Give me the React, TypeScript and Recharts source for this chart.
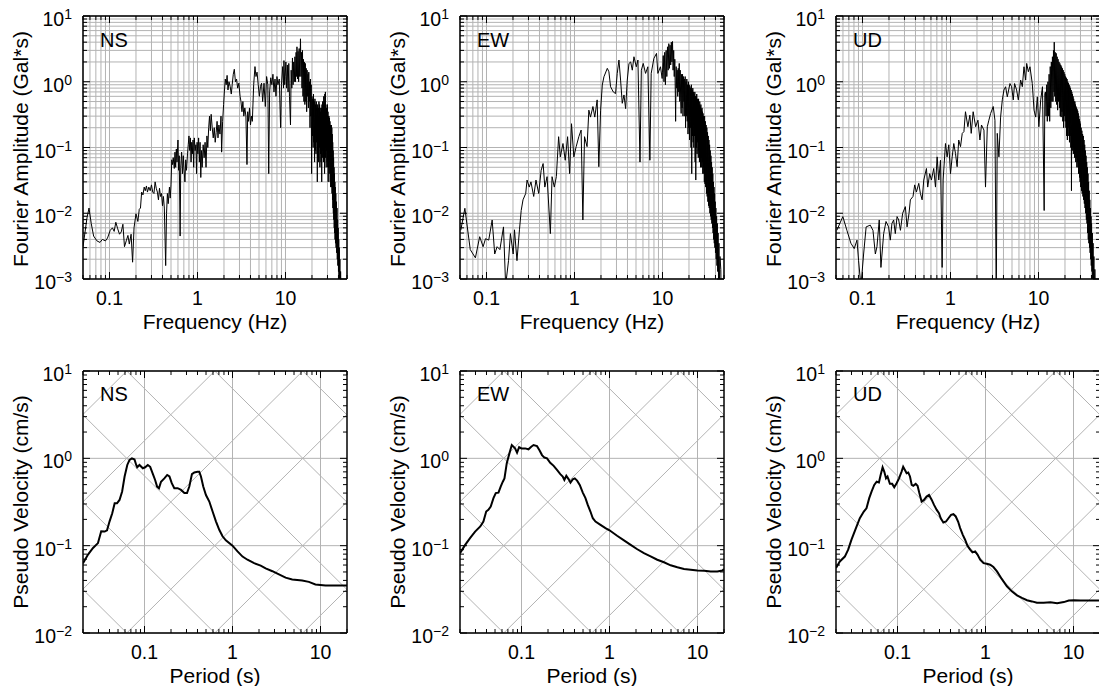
import React from "react";
import { LineChart, Line, XAxis, YAxis, ReferenceLine } from "recharts";

type Pt = [number, number];

// Fourier amplitude spectra [frequency Hz, amplitude Gal*s]
const nsFourier: Pt[] = [
  [0.05, 0.0031], [0.0555, 0.0085], [0.0585, 0.012], [0.062, 0.007], [0.066, 0.0045], [0.072, 0.0038],
  [0.078, 0.0036], [0.083, 0.004], [0.09, 0.0038], [0.095, 0.0042], [0.102, 0.0055], [0.108, 0.006],
  [0.113, 0.0053], [0.118, 0.0073], [0.124, 0.0058], [0.13, 0.0048], [0.136, 0.0052], [0.142, 0.0068],
  [0.148, 0.0031], [0.155, 0.0038], [0.162, 0.0046], [0.168, 0.0034], [0.176, 0.0048], [0.183, 0.0018],
  [0.19, 0.006], [0.2, 0.0098], [0.21, 0.0075], [0.218, 0.0115], [0.225, 0.012], [0.232, 0.021],
  [0.24, 0.019], [0.248, 0.025], [0.255, 0.022], [0.263, 0.026], [0.27, 0.021], [0.28, 0.025],
  [0.29, 0.022], [0.3, 0.027], [0.31, 0.021], [0.32, 0.02], [0.33, 0.03], [0.34, 0.024], [0.35, 0.021],
  [0.36, 0.016], [0.37, 0.024], [0.38, 0.018], [0.39, 0.02], [0.4, 0.013], [0.41, 0.018], [0.42, 0.012],
  [0.435, 0.0016], [0.445, 0.01], [0.455, 0.02], [0.465, 0.014], [0.48, 0.025], [0.49, 0.017],
  [0.5, 0.027], [0.51, 0.065], [0.52, 0.055], [0.53, 0.07], [0.545, 0.048], [0.555, 0.085], [0.565, 0.05],
  [0.575, 0.095], [0.585, 0.06], [0.6, 0.13], [0.61, 0.045], [0.62, 0.075], [0.635, 0.0045], [0.645, 0.05],
  [0.66, 0.085], [0.675, 0.04], [0.69, 0.075], [0.7, 0.05], [0.72, 0.03], [0.735, 0.065], [0.75, 0.045],
  [0.77, 0.08], [0.785, 0.11], [0.8, 0.15], [0.815, 0.09], [0.83, 0.14], [0.845, 0.06], [0.86, 0.12],
  [0.875, 0.08], [0.89, 0.13], [0.905, 0.05], [0.92, 0.14], [0.94, 0.09], [0.96, 0.11], [0.975, 0.04],
  [0.99, 0.12], [1.01, 0.08], [1.03, 0.14], [1.05, 0.06], [1.07, 0.12], [1.09, 0.035], [1.11, 0.09],
  [1.13, 0.05], [1.16, 0.11], [1.19, 0.07], [1.22, 0.12], [1.25, 0.05], [1.28, 0.15], [1.31, 0.1],
  [1.34, 0.2], [1.37, 0.3], [1.4, 0.18], [1.43, 0.32], [1.47, 0.2], [1.51, 0.14], [1.55, 0.2], [1.59, 0.12],
  [1.63, 0.17], [1.67, 0.25], [1.71, 0.14], [1.75, 0.22], [1.8, 0.16], [1.85, 0.3], [1.88, 0.085],
  [1.93, 0.25], [1.98, 0.45], [2.02, 0.7], [2.07, 1.1], [2.12, 0.9], [2.17, 1.25], [2.22, 0.75], [2.28, 1.0],
  [2.35, 0.85], [2.42, 0.65], [2.48, 0.9], [2.55, 1.3], [2.62, 1.55], [2.7, 1.0], [2.78, 1.1], [2.86, 0.8],
  [2.95, 0.95], [3.05, 0.6], [3.12, 0.5], [3.2, 0.35], [3.28, 0.5], [3.36, 0.3], [3.45, 0.4], [3.55, 0.3],
  [3.65, 0.055], [3.72, 0.35], [3.8, 0.25], [3.9, 0.4], [4.0, 0.22], [4.1, 0.3], [4.2, 0.25], [4.35, 0.9],
  [4.5, 1.7], [4.62, 1.2], [4.75, 1.4], [4.9, 0.9], [5.05, 0.6], [5.2, 0.85], [5.35, 0.95], [5.5, 0.5],
  [5.7, 0.95], [5.9, 0.42], [6.1, 1.2], [6.3, 0.9], [6.45, 0.04], [6.6, 0.7], [6.8, 1.15], [7.0, 0.9],
  [7.2, 1.3], [7.4, 0.7], [7.6, 1.1], [7.8, 0.6], [8.0, 1.2], [8.2, 0.9], [8.5, 1.1], [8.8, 0.2], [9.0, 0.9],
  [9.3, 1.7], [9.5, 0.8], [9.6, 2.1], [9.8, 0.9], [9.9, 1.2], [10.1, 2.0], [10.3, 0.8], [10.5, 1.8],
  [10.7, 0.7], [10.9, 1.9], [11.1, 0.6], [11.4, 0.22], [11.6, 1.5], [11.8, 0.8], [12.0, 2.3], [12.2, 0.9],
  [12.4, 2.0], [12.6, 1.0], [12.8, 2.4], [13.0, 1.0], [13.2, 2.8], [13.4, 1.2], [13.5, 3.4], [13.7, 1.1],
  [13.9, 2.9], [14.1, 1.0], [14.3, 3.2], [14.5, 1.2], [14.8, 4.5], [15.0, 1.2], [15.2, 2.8], [15.4, 0.8],
  [15.6, 3.0], [15.8, 0.6], [16.0, 2.2], [16.2, 0.5], [16.4, 2.0], [16.6, 0.45], [16.8, 1.9], [17.0, 0.5],
  [17.2, 1.6], [17.4, 0.35], [17.6, 1.5], [17.8, 0.6], [18.0, 1.3], [18.2, 0.4], [18.4, 1.4], [18.6, 0.5],
  [18.8, 1.0], [19.0, 0.2], [19.2, 1.1], [19.4, 0.3], [19.6, 0.9], [19.8, 0.04], [20.0, 0.6], [20.2, 0.15],
  [20.4, 0.55], [20.6, 0.1], [20.8, 0.65], [21.0, 0.12], [21.2, 0.5], [21.4, 0.06], [21.6, 0.55],
  [21.8, 0.09], [22.0, 0.45], [22.2, 0.08], [22.4, 0.5], [22.6, 0.12], [22.8, 0.4], [23.0, 0.03],
  [23.2, 0.45], [23.4, 0.07], [23.6, 0.4], [23.8, 0.06], [24.0, 0.5], [24.2, 0.1], [24.4, 0.45],
  [24.6, 0.05], [24.8, 0.4], [25.0, 0.08], [25.2, 0.35], [25.4, 0.06], [25.6, 0.4], [25.8, 0.03],
  [26.0, 0.45], [26.2, 0.07], [26.4, 0.5], [26.6, 0.09], [26.8, 0.45], [27.0, 0.06], [27.2, 0.6],
  [27.4, 0.08], [27.6, 0.5], [27.8, 0.04], [28.0, 0.65], [28.2, 0.1], [28.4, 0.7], [28.6, 0.07],
  [28.8, 0.45], [29.0, 0.05], [29.2, 0.4], [29.4, 0.09], [29.6, 0.35], [29.8, 0.06], [30.0, 0.45],
  [30.2, 0.05], [30.4, 0.35], [30.6, 0.03], [30.8, 0.3], [31.0, 0.05], [31.2, 0.3], [31.4, 0.04],
  [31.6, 0.28], [31.8, 0.06], [32.0, 0.25], [32.2, 0.03], [32.4, 0.22], [32.6, 0.025], [32.8, 0.2],
  [33.0, 0.03], [33.2, 0.22], [33.4, 0.025], [33.6, 0.2], [33.8, 0.02], [34.0, 0.16], [34.2, 0.016],
  [34.4, 0.12], [34.6, 0.012], [34.8, 0.09], [35.0, 0.01], [35.2, 0.07], [35.4, 0.008], [35.6, 0.05],
  [35.8, 0.006], [36.0, 0.04], [36.2, 0.005], [36.4, 0.03], [36.6, 0.004], [36.8, 0.025], [37.0, 0.0035],
  [37.3, 0.02], [37.6, 0.003], [37.9, 0.015], [38.2, 0.0025], [38.5, 0.012], [38.8, 0.002], [39.1, 0.008],
  [39.4, 0.0016], [39.7, 0.006], [40.0, 0.0013], [40.3, 0.004], [40.6, 0.001], [40.9, 0.003],
  [41.2, 0.0008], [41.5, 0.002], [41.8, 0.0006], [42.3, 0.0013], [43.0, 0.0005],
];

const ewFourier: Pt[] = [
  [0.051, 0.0055], [0.0568, 0.0119], [0.0654, 0.0028], [0.0748, 0.0021], [0.0837, 0.0044], [0.0915, 0.0031],
  [0.0975, 0.0041], [0.106, 0.0039], [0.116, 0.0079], [0.124, 0.0024], [0.132, 0.0031], [0.142, 0.0028],
  [0.156, 0.0062], [0.165, 0.0008], [0.178, 0.0019], [0.187, 0.0049], [0.201, 0.0024], [0.208, 0.0056],
  [0.222, 0.0019], [0.237, 0.0056], [0.248, 0.011], [0.26, 0.016], [0.279, 0.02], [0.289, 0.032],
  [0.306, 0.025], [0.32, 0.03], [0.344, 0.018], [0.365, 0.032], [0.392, 0.02], [0.418, 0.045],
  [0.44, 0.057], [0.46, 0.025], [0.488, 0.036], [0.532, 0.0049], [0.556, 0.036], [0.59, 0.025],
  [0.622, 0.036], [0.66, 0.146], [0.69, 0.072], [0.74, 0.115], [0.785, 0.064], [0.835, 0.146],
  [0.88, 0.04], [0.925, 0.23], [0.983, 0.072], [1.045, 0.103], [1.12, 0.146], [1.19, 0.184],
  [1.245, 0.0079], [1.3, 0.146], [1.39, 0.103], [1.456, 0.37], [1.52, 0.29], [1.62, 0.42], [1.7, 0.29],
  [1.81, 0.53], [1.89, 0.051], [1.98, 0.37], [2.07, 0.89], [2.16, 1.19], [2.36, 1.6], [2.46, 1.42],
  [2.57, 0.84], [2.76, 0.7], [2.93, 0.66], [3.06, 1.34], [3.2, 2.14], [3.34, 1.06], [3.49, 0.47],
  [3.65, 0.63], [3.81, 0.39], [3.98, 1.06], [4.16, 1.9], [4.35, 2.0], [4.54, 1.5], [4.74, 2.4],
  [5.04, 1.69], [5.26, 2.14], [5.55, 0.06], [5.75, 1.5], [6.04, 1.9], [6.42, 1.34], [6.82, 1.69],
  [7.19, 0.064], [7.44, 1.34], [7.98, 2.26], [8.55, 2.7], [8.86, 1.34], [9.49, 1.69], [9.91, 1.12],
  [10.0, 1.4], [10.2, 2.5], [10.4, 1.0], [10.6, 2.8], [10.8, 0.9], [11.0, 3.0], [11.2, 1.2], [11.4, 3.4],
  [11.6, 1.5], [11.8, 3.8], [12.0, 1.6], [12.2, 3.6], [12.4, 1.8], [12.6, 4.0], [12.8, 2.0], [13.0, 4.1],
  [13.2, 1.5], [13.4, 3.0], [13.6, 1.2], [13.8, 2.2], [14.0, 0.6], [14.1, 0.25], [14.3, 1.7], [14.5, 0.8],
  [14.7, 1.5], [14.9, 0.6], [15.1, 1.6], [15.3, 0.7], [15.5, 1.9], [15.7, 0.5], [15.9, 1.5], [16.1, 0.5],
  [16.3, 0.33], [16.5, 1.3], [16.7, 0.4], [16.9, 1.3], [17.1, 0.3], [17.3, 1.2], [17.5, 0.5], [17.7, 1.1],
  [17.9, 0.3], [18.1, 1.2], [18.3, 0.2], [18.5, 1.0], [18.7, 0.3], [18.9, 1.1], [19.1, 0.25], [19.3, 0.9],
  [19.5, 0.16], [19.7, 1.0], [19.9, 0.2], [20.1, 0.9], [20.3, 0.13], [20.5, 0.85], [20.7, 0.2], [20.9, 0.8],
  [21.1, 0.1], [21.3, 0.9], [21.5, 0.04], [21.7, 0.75], [21.9, 0.15], [22.1, 0.8], [22.3, 0.12],
  [22.5, 0.7], [22.7, 0.1], [22.9, 0.65], [23.1, 0.15], [23.3, 0.7], [23.5, 0.06], [23.7, 0.6],
  [23.9, 0.032], [24.1, 0.6], [24.3, 0.1], [24.5, 0.65], [24.7, 0.08], [24.9, 0.55], [25.1, 0.12],
  [25.3, 0.5], [25.5, 0.07], [25.7, 0.55], [25.9, 0.09], [26.1, 0.45], [26.3, 0.06], [26.5, 0.5],
  [26.7, 0.08], [26.9, 0.42], [27.1, 0.05], [27.3, 0.45], [27.5, 0.07], [27.7, 0.38], [27.9, 0.05],
  [28.1, 0.4], [28.3, 0.06], [28.5, 0.35], [28.7, 0.04], [28.9, 0.33], [29.1, 0.05], [29.3, 0.3],
  [29.5, 0.04], [29.7, 0.28], [29.9, 0.03], [30.1, 0.3], [30.4, 0.028], [30.7, 0.25], [31.0, 0.025],
  [31.3, 0.22], [31.6, 0.02], [31.9, 0.2], [32.2, 0.018], [32.5, 0.17], [32.8, 0.015], [33.1, 0.15],
  [33.4, 0.013], [33.7, 0.13], [34.0, 0.012], [34.3, 0.11], [34.6, 0.01], [34.9, 0.09], [35.2, 0.009],
  [35.5, 0.075], [35.8, 0.008], [36.1, 0.06], [36.4, 0.007], [36.7, 0.05], [37.0, 0.006], [37.3, 0.04],
  [37.6, 0.005], [37.9, 0.03], [38.2, 0.004], [38.5, 0.025], [38.8, 0.0035], [39.1, 0.02], [39.4, 0.003],
  [39.7, 0.015], [40.0, 0.0025], [40.4, 0.012], [40.8, 0.002], [41.2, 0.009], [41.6, 0.0016],
  [42.0, 0.007], [42.4, 0.0013], [42.8, 0.005], [43.3, 0.001], [43.8, 0.0035], [44.3, 0.0008],
  [45.0, 0.0022], [46.0, 0.0014], [46.5, 0.0005], [47.5, 0.0008], [48.5, 0.0004],
];

const udFourier: Pt[] = [
  [0.0511, 0.0055], [0.0598, 0.0089], [0.0665, 0.0055], [0.0738, 0.0035], [0.0806, 0.0029], [0.0866, 0.0039],
  [0.0903, 0.0019], [0.096, 0.00077], [0.103, 0.0024], [0.11, 0.0062], [0.1225, 0.0066], [0.1315, 0.0055],
  [0.14, 0.0024], [0.146, 0.0031], [0.155, 0.0079], [0.162, 0.0015], [0.174, 0.0049], [0.185, 0.0075],
  [0.198, 0.0062], [0.207, 0.0039], [0.216, 0.007], [0.226, 0.0079], [0.236, 0.0049], [0.247, 0.0089],
  [0.258, 0.0079], [0.27, 0.0055], [0.286, 0.01], [0.307, 0.0126], [0.321, 0.0062], [0.338, 0.01],
  [0.35, 0.016], [0.375, 0.018], [0.392, 0.027], [0.41, 0.021], [0.436, 0.0285], [0.455, 0.02],
  [0.476, 0.016], [0.497, 0.032], [0.533, 0.048], [0.551, 0.025], [0.58, 0.04], [0.607, 0.032],
  [0.645, 0.048], [0.675, 0.025], [0.705, 0.072], [0.736, 0.032], [0.77, 0.064], [0.804, 0.0015],
  [0.825, 0.032], [0.877, 0.115], [0.916, 0.072], [0.957, 0.11], [1.0, 0.04], [1.045, 0.072],
  [1.09, 0.115], [1.14, 0.081], [1.19, 0.051], [1.24, 0.13], [1.3, 0.103], [1.36, 0.164], [1.42, 0.174],
  [1.48, 0.35], [1.576, 0.207], [1.66, 0.31], [1.72, 0.164], [1.81, 0.35], [1.93, 0.207], [2.05, 0.26],
  [2.16, 0.13], [2.25, 0.22], [2.4, 0.184], [2.5, 0.025], [2.62, 0.207], [2.73, 0.26], [2.86, 0.33],
  [3.06, 0.42], [3.2, 0.26], [3.31, 0.0005], [3.4, 0.164], [3.55, 0.072], [3.71, 0.29], [3.88, 0.53],
  [4.05, 0.75], [4.23, 0.84], [4.42, 0.59], [4.74, 0.94], [4.95, 0.84], [5.17, 0.53], [5.35, 0.94],
  [5.64, 0.75], [5.9, 0.53], [6.27, 1.06], [6.55, 0.84], [6.84, 1.69], [7.15, 1.06], [7.34, 1.9],
  [7.67, 1.42], [8.0, 1.69], [8.5, 0.94], [8.9, 0.37], [9.3, 0.29], [9.7, 0.59], [10.1, 0.207],
  [10.6, 0.53], [11.1, 0.84], [11.6, 0.011], [11.8, 0.66], [12.0, 0.7], [12.2, 0.3], [12.4, 0.9],
  [12.6, 0.25], [12.8, 1.0], [13.0, 0.3], [13.2, 1.3], [13.4, 0.25], [13.6, 1.7], [13.8, 0.4], [14.0, 2.0],
  [14.2, 0.5], [14.4, 2.4], [14.6, 0.5], [14.8, 3.0], [15.0, 0.7], [15.1, 4.0], [15.3, 0.6], [15.5, 2.8],
  [15.7, 0.5], [15.9, 2.7], [16.1, 0.45], [16.3, 2.4], [16.5, 0.37], [16.7, 2.2], [16.9, 0.5], [17.1, 2.0],
  [17.3, 0.4], [17.5, 1.9], [17.7, 0.3], [17.9, 1.8], [18.1, 0.29], [18.3, 1.7], [18.5, 0.35], [18.7, 1.6],
  [18.9, 0.25], [19.1, 1.5], [19.3, 0.2], [19.5, 1.4], [19.7, 0.3], [19.9, 1.3], [20.1, 0.25], [20.3, 1.2],
  [20.5, 0.2], [20.7, 1.15], [20.9, 0.15], [21.1, 1.1], [21.3, 0.13], [21.5, 1.0], [21.7, 0.2],
  [21.9, 0.95], [22.1, 0.15], [22.3, 0.9], [22.5, 0.12], [22.7, 0.85], [22.9, 0.15], [23.1, 0.8],
  [23.3, 0.1], [23.5, 0.75], [23.7, 0.022], [23.9, 0.7], [24.1, 0.1], [24.3, 0.65], [24.5, 0.09],
  [24.7, 0.6], [24.9, 0.08], [25.1, 0.55], [25.3, 0.1], [25.5, 0.5], [25.7, 0.07], [25.9, 0.5],
  [26.1, 0.08], [26.3, 0.45], [26.5, 0.06], [26.7, 0.42], [26.9, 0.07], [27.1, 0.4], [27.3, 0.05],
  [27.5, 0.38], [27.7, 0.06], [27.9, 0.36], [28.1, 0.05], [28.3, 0.33], [28.5, 0.04], [28.7, 0.3],
  [28.9, 0.045], [29.1, 0.27], [29.3, 0.035], [29.5, 0.25], [29.7, 0.03], [29.9, 0.23], [30.2, 0.025],
  [30.5, 0.2], [30.8, 0.022], [31.1, 0.18], [31.4, 0.02], [31.7, 0.16], [32.0, 0.018], [32.3, 0.15],
  [32.6, 0.016], [32.9, 0.13], [33.2, 0.014], [33.5, 0.11], [33.8, 0.012], [34.1, 0.09], [34.4, 0.01],
  [34.7, 0.075], [35.0, 0.008], [35.3, 0.06], [35.6, 0.007], [35.9, 0.05], [36.2, 0.005], [36.5, 0.04],
  [36.8, 0.004], [37.1, 0.03], [37.4, 0.0035], [37.7, 0.022], [38.0, 0.003], [38.3, 0.016],
  [38.6, 0.0025], [38.9, 0.012], [39.2, 0.002], [39.5, 0.009], [39.8, 0.0016], [40.1, 0.007],
  [40.5, 0.0013], [40.9, 0.005], [41.3, 0.001], [41.7, 0.0035], [42.1, 0.0008], [42.6, 0.0022],
  [43.1, 0.0006], [43.7, 0.0014], [44.5, 0.0005], [45.3, 0.0008], [46.0, 0.0003],
];

// Pseudo velocity response spectra [period s, velocity cm/s]
const nsPsv: Pt[] = [
  [0.02, 0.063], [0.0228, 0.079], [0.026, 0.094], [0.0296, 0.107], [0.0322, 0.146], [0.0353, 0.145],
  [0.0375, 0.15], [0.0401, 0.19], [0.043, 0.235], [0.0458, 0.306], [0.0487, 0.306], [0.052, 0.334],
  [0.0557, 0.417], [0.0594, 0.62], [0.0637, 0.84], [0.0676, 0.96], [0.0719, 1.0], [0.077, 0.97],
  [0.0805, 0.84], [0.0826, 0.79], [0.0877, 0.84], [0.0957, 0.77], [0.1017, 0.79], [0.109, 0.84],
  [0.116, 0.8], [0.124, 0.67], [0.132, 0.565], [0.139, 0.475], [0.146, 0.455], [0.154, 0.54],
  [0.168, 0.59], [0.181, 0.645], [0.192, 0.62], [0.204, 0.52], [0.218, 0.455], [0.238, 0.455],
  [0.26, 0.435], [0.284, 0.4], [0.304, 0.4], [0.323, 0.475], [0.346, 0.66], [0.368, 0.69], [0.4, 0.7],
  [0.419, 0.7], [0.438, 0.62], [0.465, 0.475], [0.499, 0.38], [0.545, 0.32], [0.594, 0.246],
  [0.648, 0.19], [0.707, 0.152], [0.77, 0.128], [0.84, 0.115], [1.0, 0.1], [1.14, 0.086], [1.3, 0.075],
  [1.48, 0.069], [1.76, 0.063], [2.09, 0.059], [2.38, 0.055], [2.84, 0.051], [3.37, 0.047], [4.01, 0.043],
  [4.77, 0.041], [6.19, 0.04], [7.37, 0.0385], [8.76, 0.036], [11.4, 0.035], [14.8, 0.035], [20, 0.035],
];

const ewPsv: Pt[] = [
  [0.02, 0.082], [0.0229, 0.102], [0.026, 0.122], [0.0297, 0.145], [0.034, 0.166], [0.0369, 0.189],
  [0.0397, 0.246], [0.042, 0.257], [0.0447, 0.28], [0.048, 0.35], [0.051, 0.4], [0.0547, 0.405],
  [0.058, 0.475], [0.0613, 0.54], [0.064, 0.59], [0.068, 0.88], [0.0729, 1.14], [0.0775, 1.42],
  [0.081, 1.36], [0.0845, 1.3], [0.089, 1.16], [0.094, 1.34], [0.1, 1.3], [0.11, 1.3], [0.12, 1.27],
  [0.129, 1.36], [0.137, 1.42], [0.15, 1.38], [0.16, 1.24], [0.171, 1.09], [0.182, 1.02], [0.195, 1.0],
  [0.212, 0.89], [0.232, 0.82], [0.253, 0.736], [0.276, 0.66], [0.294, 0.62], [0.307, 0.565],
  [0.323, 0.63], [0.344, 0.575], [0.36, 0.527], [0.382, 0.575], [0.403, 0.59], [0.428, 0.555],
  [0.459, 0.496], [0.497, 0.405], [0.533, 0.35], [0.566, 0.293], [0.607, 0.246], [0.646, 0.206],
  [0.693, 0.189], [0.79, 0.173], [0.9, 0.159], [1.0, 0.15], [1.22, 0.13], [1.46, 0.115], [1.74, 0.102],
  [2.07, 0.091], [2.46, 0.082], [2.93, 0.0755], [3.49, 0.069], [4.16, 0.0645], [4.95, 0.0596],
  [5.9, 0.0565], [7.03, 0.054], [8.37, 0.053], [9.97, 0.052], [11.9, 0.0515], [14.1, 0.0506],
  [16.8, 0.0506], [19.2, 0.052], [20, 0.054],
];

const udPsv: Pt[] = [
  [0.02, 0.0555], [0.0221, 0.066], [0.0252, 0.075], [0.0275, 0.09], [0.03, 0.117], [0.0337, 0.159],
  [0.0373, 0.206], [0.0414, 0.246], [0.0444, 0.268], [0.0477, 0.35], [0.0507, 0.416], [0.0544, 0.496],
  [0.058, 0.54], [0.0615, 0.53], [0.0643, 0.645], [0.0677, 0.79], [0.0708, 0.7], [0.074, 0.59],
  [0.077, 0.62], [0.0819, 0.51], [0.087, 0.51], [0.0918, 0.466], [0.0977, 0.518], [0.104, 0.59],
  [0.111, 0.7], [0.116, 0.8], [0.1214, 0.736], [0.127, 0.674], [0.1325, 0.686], [0.1386, 0.62],
  [0.145, 0.496], [0.151, 0.484], [0.161, 0.51], [0.169, 0.484], [0.177, 0.4], [0.188, 0.32],
  [0.2, 0.334], [0.214, 0.365], [0.228, 0.38], [0.245, 0.334], [0.26, 0.293], [0.279, 0.257],
  [0.296, 0.235], [0.31, 0.206], [0.332, 0.184], [0.356, 0.189], [0.379, 0.206], [0.406, 0.225],
  [0.432, 0.229], [0.459, 0.216], [0.488, 0.189], [0.515, 0.159], [0.552, 0.133], [0.586, 0.117],
  [0.623, 0.1], [0.669, 0.09], [0.711, 0.0838], [0.763, 0.086], [0.811, 0.079], [0.87, 0.069],
  [0.95, 0.0631], [1.035, 0.062], [1.13, 0.0605], [1.23, 0.0569], [1.35, 0.0508], [1.53, 0.0416],
  [1.75, 0.0343], [1.99, 0.03], [2.28, 0.027], [2.59, 0.0252], [2.96, 0.0237], [3.37, 0.023],
  [3.84, 0.0222], [4.58, 0.0222], [5.46, 0.0225], [6.52, 0.0219], [7.76, 0.0226], [8.84, 0.0236],
  [10.1, 0.0237], [12.0, 0.0236], [15.6, 0.0236], [20, 0.0236],
];

const COMPONENTS = ["NS", "EW", "UD"];
const FOURIER_SERIES = [nsFourier, ewFourier, udFourier];
const PSV_SERIES = [nsPsv, ewPsv, udPsv];

const FREQ_DOMAIN: [number, number] = [0.05, 50];
const AMP_DOMAIN: [number, number] = [0.001, 10];
const PERIOD_DOMAIN: [number, number] = [0.02, 20];
const VEL_DOMAIN: [number, number] = [0.01, 10];
const X_LABELS = [0.1, 1, 10];

// tripartite guide levels: acceleration (Gal) and displacement (cm)
const ACC_LEVELS = [0.01, 0.1, 1, 10, 100, 1000];
const DISP_LEVELS = [0.0001, 0.001, 0.01, 0.1, 1, 10];

const FONT = '"Liberation Sans", Arial, Helvetica, sans-serif';
const GRID = "#b3b3b3";
const AXIS_W = 83;
const AXIS_H = 56;
const PAD_T = 16;
const PAD_R = 12;
const PLOT_W = 264;
const COL_X = [83, 460, 836];
const TOP_Y = 16;
const TOP_H = 263;
const BOT_Y = 371;
const BOT_H = 262;

const logTicks = ([lo, hi]: [number, number]) => {
  const out: number[] = [];
  for (let e = Math.floor(Math.log10(lo)); e <= Math.ceil(Math.log10(hi)); e++) {
    for (let m = 1; m <= 9; m++) {
      const v = +(m * Math.pow(10, e)).toPrecision(6);
      if (v >= lo && v <= hi) out.push(v);
    }
  }
  return out;
};

const isDecade = (v: number) => Math.abs(Math.log10(v) - Math.round(Math.log10(v))) < 1e-9;

const XTick = (props: any) => {
  const { x, y, payload, h } = props;
  const v = payload.value;
  const major = isDecade(v);
  const len = major ? 7 : 4;
  const showLabel = X_LABELS.some((l) => Math.abs(l - v) < 1e-9);
  return (
    <g>
      <line x1={x} x2={x} y1={y} y2={y - len} stroke="#000" />
      <line x1={x} x2={x} y1={y - h} y2={y - h + len} stroke="#000" />
      {showLabel && (
        <text x={x} y={y + 26} textAnchor="middle" fontSize={19.5} fill="#000" fontFamily={FONT}>
          {String(v)}
        </text>
      )}
    </g>
  );
};

const YTick = (props: any) => {
  const { x, y, payload } = props;
  const v = payload.value;
  const major = isDecade(v);
  const len = major ? 7 : 4;
  const e = Math.round(Math.log10(v));
  return (
    <g>
      <line x1={x} x2={x + len} y1={y} y2={y} stroke="#000" />
      <line x1={x + PLOT_W} x2={x + PLOT_W - len} y1={y} y2={y} stroke="#000" />
      {major && (
        <text x={x - 11} y={y + 10} textAnchor="end" fontSize={19.5} fill="#000" fontFamily={FONT}>
          10
          <tspan dy={-7} fontSize={14}>
            {e < 0 ? `\u2212${-e}` : `${e}`}
          </tspan>
        </text>
      )}
    </g>
  );
};

interface PanelProps {
  left: number;
  top: number;
  h: number;
  data: Pt[];
  xDomain: [number, number];
  yDomain: [number, number];
  fullGrid: boolean;
  tripartite: boolean;
  lineWidth: number;
}

const Panel = ({ left, top, h, data, xDomain, yDomain, fullGrid, tripartite, lineWidth }: PanelProps) => {
  const rows = data.map(([x, y]) => ({ x, y }));
  const xTicks = logTicks(xDomain);
  const yTicks = logTicks(yDomain);
  const gridX = fullGrid ? xTicks : xTicks.filter(isDecade);
  const gridY = fullGrid ? yTicks : yTicks.filter(isDecade);
  const [t0, t1] = xDomain;

  return (
    <div style={{ position: "absolute", left: left - AXIS_W, top: top - PAD_T }}>
      <LineChart
        width={AXIS_W + PLOT_W + PAD_R}
        height={PAD_T + h + AXIS_H}
        margin={{ top: PAD_T, right: PAD_R, bottom: 0, left: 0 }}
        data={rows}
      >
        {gridX.map((v) => (
          <ReferenceLine key={`gx${v}`} x={v} stroke={GRID} strokeWidth={1} />
        ))}
        {gridY.map((v) => (
          <ReferenceLine key={`gy${v}`} y={v} stroke={GRID} strokeWidth={1} />
        ))}
        {tripartite &&
          ACC_LEVELS.map((a) => (
            <ReferenceLine
              key={`acc${a}`}
              segment={[
                { x: t0, y: (a * t0) / (2 * Math.PI) },
                { x: t1, y: (a * t1) / (2 * Math.PI) },
              ]}
              ifOverflow="hidden"
              stroke={GRID}
              strokeWidth={1}
            />
          ))}
        {tripartite &&
          DISP_LEVELS.map((d) => (
            <ReferenceLine
              key={`disp${d}`}
              segment={[
                { x: t0, y: (2 * Math.PI * d) / t0 },
                { x: t1, y: (2 * Math.PI * d) / t1 },
              ]}
              ifOverflow="hidden"
              stroke={GRID}
              strokeWidth={1}
            />
          ))}
        <Line
          dataKey="y"
          type="linear"
          stroke="#000"
          strokeWidth={lineWidth}
          dot={false}
          activeDot={false}
          isAnimationActive={false}
        />
        <ReferenceLine y={yDomain[1]} stroke="#000" strokeWidth={1.5} />
        <ReferenceLine x={xDomain[1]} stroke="#000" strokeWidth={1.5} />
        <XAxis
          dataKey="x"
          type="number"
          scale="log"
          domain={xDomain}
          allowDataOverflow
          ticks={xTicks}
          interval={0}
          tickSize={0}
          tickMargin={0}
          tickLine={false}
          axisLine={{ stroke: "#000", strokeWidth: 1.5 }}
          height={AXIS_H}
          tick={(p: any) => <XTick {...p} h={h} />}
        />
        <YAxis
          dataKey="y"
          type="number"
          scale="log"
          domain={yDomain}
          allowDataOverflow
          ticks={yTicks}
          interval={0}
          tickSize={0}
          tickMargin={0}
          tickLine={false}
          axisLine={{ stroke: "#000", strokeWidth: 1.5 }}
          width={AXIS_W}
          tick={(p: any) => <YTick {...p} />}
        />
      </LineChart>
    </div>
  );
};

const Titles = () => (
  <svg
    width={1099}
    height={686}
    style={{ position: "absolute", left: 0, top: 0, pointerEvents: "none" }}
    fontFamily={FONT}
    fill="#000"
  >
    {COL_X.map((x, i) => (
      <g key={COMPONENTS[i]}>
        <text x={x + 17} y={TOP_Y + 30.5} fontSize={20}>
          {COMPONENTS[i]}
        </text>
        <text x={x + 17} y={BOT_Y + 30} fontSize={20}>
          {COMPONENTS[i]}
        </text>
        <text x={x + PLOT_W / 2} y={TOP_Y + TOP_H + 49.5} fontSize={21} textAnchor="middle">
          Frequency (Hz)
        </text>
        <text x={x + PLOT_W / 2} y={BOT_Y + BOT_H + 49.5} fontSize={21} textAnchor="middle">
          Period (s)
        </text>
        <text
          x={x - 55}
          y={TOP_Y + TOP_H / 2 + 1.5}
          fontSize={21}
          textAnchor="middle"
          transform={`rotate(-90 ${x - 55} ${TOP_Y + TOP_H / 2 + 1.5})`}
        >
          Fourier Amplitude (Gal*s)
        </text>
        <text
          x={x - 55}
          y={BOT_Y + BOT_H / 2}
          fontSize={21}
          textAnchor="middle"
          transform={`rotate(-90 ${x - 55} ${BOT_Y + BOT_H / 2})`}
        >
          Pseudo Velocity (cm/s)
        </text>
      </g>
    ))}
  </svg>
);

export default function App() {
  return (
    <div
      style={{
        position: "absolute",
        left: 0,
        top: 0,
        width: 1099,
        height: 686,
        overflow: "hidden",
        background: "#fff",
        fontFamily: FONT,
      }}
    >
      {COL_X.map((x, i) => (
        <Panel
          key={`f${i}`}
          left={x}
          top={TOP_Y}
          h={TOP_H}
          data={FOURIER_SERIES[i]}
          xDomain={FREQ_DOMAIN}
          yDomain={AMP_DOMAIN}
          fullGrid
          tripartite={false}
          lineWidth={1}
        />
      ))}
      {COL_X.map((x, i) => (
        <Panel
          key={`p${i}`}
          left={x}
          top={BOT_Y}
          h={BOT_H}
          data={PSV_SERIES[i]}
          xDomain={PERIOD_DOMAIN}
          yDomain={VEL_DOMAIN}
          fullGrid={false}
          tripartite
          lineWidth={2}
        />
      ))}
      <Titles />
    </div>
  );
}
